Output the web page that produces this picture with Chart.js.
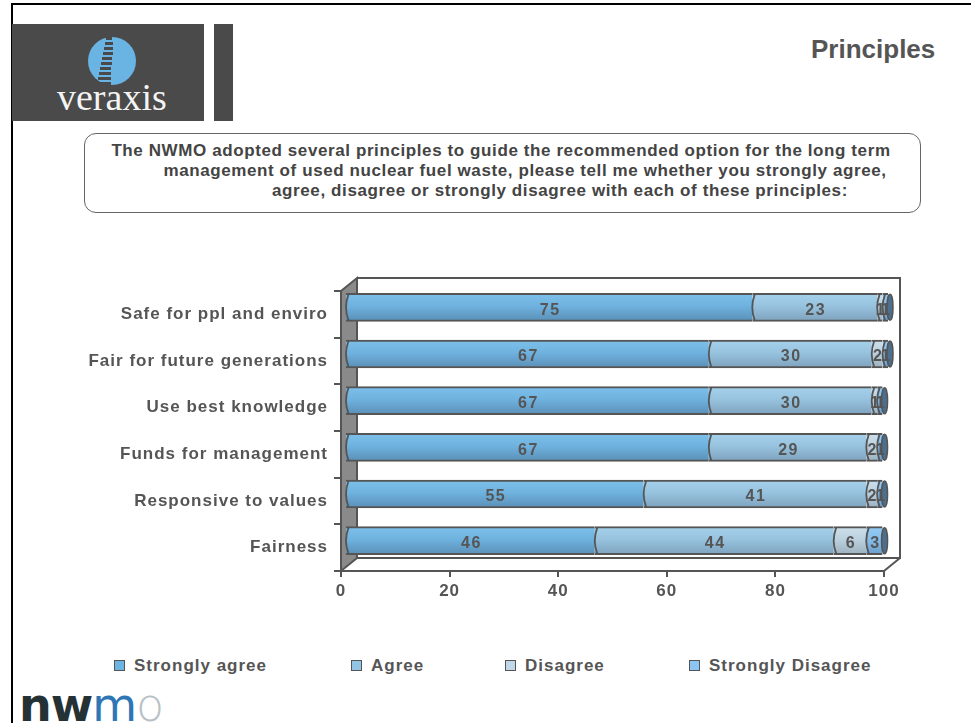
<!DOCTYPE html>
<html>
<head>
<meta charset="utf-8">
<script src="https://cdn.jsdelivr.net/npm/chart.js@4.4.1/dist/chart.umd.min.js"></script>
<style>
  body { margin: 0; width: 971px; height: 723px; overflow: hidden; background: #fff; position: relative;
         font-family: "Liberation Sans", Arial, sans-serif; color: #555; }
  .abs { position: absolute; }
  #frame-top { left: 11px; top: 3px; width: 960px; height: 2px; background: #000; }
  #frame-left { left: 11px; top: 3px; width: 2px; height: 720px; background: #000; }
  #logo-main { left: 12px; top: 24px; width: 192px; height: 97px; background: #4a4a4a; }
  #logo-bar { left: 214px; top: 24px; width: 19px; height: 97px; background: #4a4a4a; }
  #logo-word { left: 57px; top: 78px; font-family: "Liberation Serif", "DejaVu Serif", serif; font-size: 38px;
               color: #f4f4f4; line-height: 38px; letter-spacing: 0; }
  #heading { left: 811px; top: 36px; font-size: 26px; font-weight: bold; line-height: 26px; color: #555; }
  #question { left: 84px; top: 133px; width: 837px; height: 80px; box-sizing: border-box;
              border: 1.5px solid #666; border-radius: 12px; }
  .qline { font-size: 17px; font-weight: bold; line-height: 20px; color: #444; white-space: nowrap;
           letter-spacing: 0.6px; transform: translateX(-50%); }
  #chart-wrap { left: 0; top: 240px; width: 971px; height: 380px; }
  .leg-box { width: 9px; height: 9px; border: 1.5px solid #555; top: 660px; }
  .leg-text { top: 656px; font-size: 17px; font-weight: bold; letter-spacing: 1px; line-height: 20px; color: #555; white-space: nowrap; }
  #nwmo { left: 19px; top: 682px; font-family: "DejaVu Sans", sans-serif; font-size: 46px; line-height: 46px;
          letter-spacing: -1px; white-space: nowrap; }
</style>
</head>
<body>
<div id="frame-top" class="abs"></div>
<div id="frame-left" class="abs"></div>

<div id="logo-main" class="abs"></div>
<div id="logo-bar" class="abs"></div>
<svg class="abs" style="left:0;top:0" width="240" height="130">
  <circle cx="112" cy="61" r="24" fill="#6ab4e4"/>
  <g fill="#4a4a4a">
    <rect x="106" y="37" width="6" height="3"/>
    <rect x="105" y="42" width="8" height="3"/>
    <rect x="104" y="47" width="9" height="3"/>
    <rect x="103" y="52" width="10" height="3"/>
    <rect x="102" y="57" width="10" height="3"/>
    <rect x="101" y="62" width="11" height="3"/>
    <rect x="100" y="67" width="11" height="3"/>
    <rect x="99" y="72" width="12" height="3"/>
    <rect x="98" y="77" width="13" height="3"/>
    <rect x="97" y="82" width="14" height="3"/>
  </g>
</svg>
<div id="logo-word" class="abs">veraxis</div>

<div id="heading" class="abs">Principles</div>

<div id="question" class="abs"></div>
<div class="abs qline" style="left:501px;top:141px">The NWMO adopted several principles to guide the recommended option for the long term</div>
<div class="abs qline" style="left:525px;top:161px">management of used nuclear fuel waste, please tell me whether you strongly agree,</div>
<div class="abs qline" style="left:560px;top:181px">agree, disagree or strongly disagree with each of these principles:</div>

<div id="chart-wrap" class="abs"><canvas id="chart"></canvas></div>

<div id="legend"></div>

<div id="nwmo" class="abs"><span style="font-weight:bold;color:#253235">nw</span><span style="color:#2f76b6">m</span><span style="color:#b9c1c6;font-weight:200">o</span></div>

<script>
// --- Дані ---
const categories = ['Safe for ppl and enviro', 'Fair for future generations', 'Use best knowledge',
                    'Funds for management', 'Responsive to values', 'Fairness'];
const seriesNames = ['Strongly agree', 'Agree', 'Disagree', 'Strongly Disagree'];
const stronglyAgree = [75, 67, 67, 67, 55, 46];
const agree = [23, 30, 30, 29, 41, 44];
const disagree = [1, 2, 1, 2, 2, 6];
const stronglyDisagree = [1, 1, 1, 1, 1, 3];
const xTicks = [0, 20, 40, 60, 80, 100];

// кольори: верх, середина, низ смуги + колір квадрата в легенді
const palette = [
    { stops: ['#7cc0ea', '#6fb2df', '#5a8fb6'], swatch: '#6cb4e4' },
    { stops: ['#a6d1eb', '#97c3df', '#7ea2bd'], swatch: '#94c4e4' },
    { stops: ['#cddfea', '#bcd1df', '#9cb0be'], swatch: '#c0d8e8' },
    { stops: ['#94cbf6', '#86bdea', '#6a9ecb'], swatch: '#8cc4f4' }
];
const legendX = [114, 351, 505, 689];

const BAR_H = 28;
const DEPTH_X = 16, DEPTH_Y = -13;   // глибина "3D" стінки
const SHIFT_X = 4, SHIFT_Y = -7;     // зсув смуг всередину коробки
const END_CAP = '#4c6f8e';

function barFill(stops) {
    return (c) => {
        const chart = c.chart;
        if (!chart.chartArea) return stops[1];
        const y = chart.scales.y.getPixelForValue(c.dataIndex);
        const g = chart.ctx.createLinearGradient(0, y - BAR_H / 2, 0, y + BAR_H / 2);
        g.addColorStop(0, stops[0]);
        g.addColorStop(0.45, stops[1]);
        g.addColorStop(1, stops[2]);
        return g;
    };
}

// --- Легенда ---
const legend = document.getElementById('legend');
seriesNames.forEach((name, i) => {
    const box = document.createElement('div');
    box.className = 'abs leg-box';
    box.style.left = legendX[i] + 'px';
    box.style.background = palette[i].swatch;
    legend.appendChild(box);
    const txt = document.createElement('div');
    txt.className = 'abs leg-text';
    txt.style.left = (legendX[i] + 20) + 'px';
    txt.textContent = name;
    legend.appendChild(txt);
});

// --- Коробка, заокруглення сегментів, підписи ---
const boxPlugin = {
    id: 'box3d',
    beforeDraw(chart) { chart.ctx.letterSpacing = '1px'; },
    beforeDatasetsDraw(chart) {
        const { ctx, chartArea: a } = chart;
        ctx.save();
        ctx.strokeStyle = '#555';
        ctx.lineWidth = 2;
        // ліва стінка
        ctx.beginPath();
        ctx.moveTo(a.left, a.top);
        ctx.lineTo(a.left + DEPTH_X, a.top + DEPTH_Y);
        ctx.lineTo(a.left + DEPTH_X, a.bottom + DEPTH_Y);
        ctx.lineTo(a.left, a.bottom);
        ctx.closePath();
        ctx.fillStyle = '#8a8a8a';
        ctx.fill();
        ctx.stroke();
        // задня стінка і підлога
        ctx.beginPath();
        ctx.moveTo(a.left + DEPTH_X, a.top + DEPTH_Y);
        ctx.lineTo(a.right + DEPTH_X, a.top + DEPTH_Y);
        ctx.lineTo(a.right + DEPTH_X, a.bottom + DEPTH_Y);
        ctx.lineTo(a.left + DEPTH_X, a.bottom + DEPTH_Y);
        ctx.moveTo(a.right + DEPTH_X, a.bottom + DEPTH_Y);
        ctx.lineTo(a.right, a.bottom);
        ctx.stroke();
        ctx.restore();

        ctx.save();
        ctx.translate(SHIFT_X, SHIFT_Y);
    },
    afterDatasetsDraw(chart) {
        const { ctx } = chart;
        const lastMeta = chart.getDatasetMeta(chart.data.datasets.length - 1);
        // округлі торці справа
        lastMeta.data.forEach(el => {
            const h = el.height / 2 - 1;
            ctx.beginPath();
            ctx.ellipse(el.x + 2, el.y, 3, h, 0, 0, Math.PI * 2);
            ctx.fillStyle = END_CAP;
            ctx.fill();
            ctx.strokeStyle = '#555';
            ctx.lineWidth = 1.5;
            ctx.stroke();
        });
        // межі сегментів у вигляді "("
        chart.data.datasets.forEach((ds, di) => {
            chart.getDatasetMeta(di).data.forEach(el => {
                const top = el.y - el.height / 2 + 1, bottom = el.y + el.height / 2 - 1;
                ctx.beginPath();
                ctx.moveTo(el.base + 2.5, top);
                ctx.quadraticCurveTo(el.base - 2.5, el.y, el.base + 2.5, bottom);
                ctx.strokeStyle = '#555';
                ctx.lineWidth = 1.8;
                ctx.stroke();
            });
        });
        // значення в центрі сегментів
        ctx.font = 'bold 16px "Liberation Sans", Arial, sans-serif';
        ctx.letterSpacing = '1.5px';
        ctx.fillStyle = '#555';
        ctx.textAlign = 'center';
        ctx.textBaseline = 'middle';
        chart.data.datasets.forEach((ds, di) => {
            chart.getDatasetMeta(di).data.forEach((el, i) => {
                ctx.fillText(String(ds.data[i]), (el.x + el.base) / 2 + 1, el.y + 3);
            });
        });
        ctx.restore();
    }
};

const seriesData = [stronglyAgree, agree, disagree, stronglyDisagree];

new Chart(document.getElementById('chart'), {
    type: 'bar',
    data: {
        labels: categories,
        datasets: seriesNames.map((name, i) => ({
            label: name,
            data: seriesData[i],
            backgroundColor: barFill(palette[i].stops),
            borderColor: '#555',
            borderWidth: { top: 2, bottom: 2, left: 0, right: 0 },
            borderSkipped: false,
            barThickness: BAR_H,
            clip: false
        }))
    },
    options: {
        indexAxis: 'y',
        responsive: true,
        maintainAspectRatio: false,
        animation: false,
        events: [],
        layout: { padding: { top: 51, right: 87, left: 0, bottom: 0 } },
        plugins: { legend: { display: false }, tooltip: { enabled: false } },
        scales: {
            x: {
                stacked: true,
                min: 0, max: 100,
                afterBuildTicks: (scale) => { scale.ticks = xTicks.map(v => ({ value: v })); },
                afterFit: (scale) => { scale.height = 49; },
                ticks: { color: '#555', font: { family: '"Liberation Sans", Arial', size: 17, weight: 'bold' }, padding: 4 },
                grid: { drawOnChartArea: false, color: '#555', lineWidth: 2, tickLength: 6 },
                border: { color: '#555', width: 2 }
            },
            y: {
                stacked: true,
                afterFit: (scale) => { scale.width = 341; },
                ticks: { color: '#555', font: { family: '"Liberation Sans", Arial', size: 17, weight: 'bold' }, padding: 6 },
                grid: { drawOnChartArea: false, color: '#555', lineWidth: 2, tickLength: 7, offset: true },
                border: { color: '#555', width: 2 }
            }
        }
    },
    plugins: [boxPlugin]
});
</script>
</body>
</html>
